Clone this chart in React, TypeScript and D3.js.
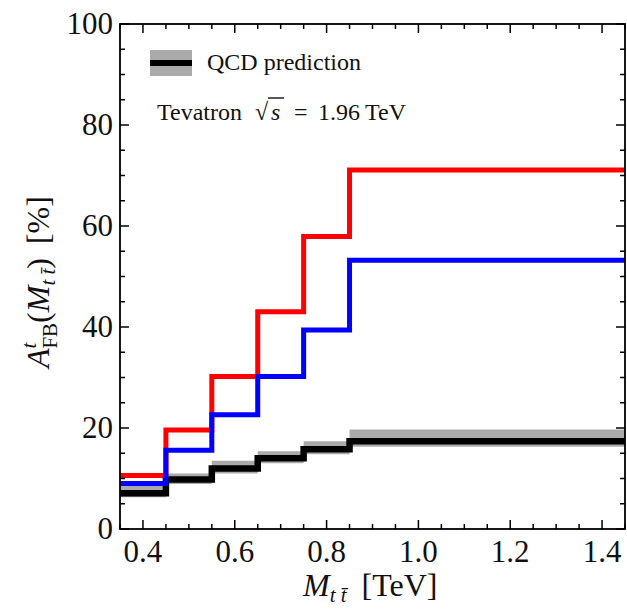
import * as d3 from 'd3';

// bin edges in TeV; last bin runs to the end of the axis
const binEdges = [0.35, 0.45, 0.55, 0.65, 0.75, 0.85, 1.45];
const redValues = [10.6, 19.6, 30.2, 43.0, 57.9, 71.1];
const blueValues = [9.0, 15.6, 22.6, 30.2, 39.4, 53.2];
const qcdCentral = [7.1, 9.8, 12.0, 14.0, 15.8, 17.4];
const qcdUpper = [8.5, 11.0, 13.5, 15.4, 17.4, 19.7];
const qcdLower = [6.3, 8.9, 11.0, 13.0, 14.8, 16.3];

const xMajor = [0.4, 0.6, 0.8, 1.0, 1.2, 1.4];
const yMajor = [0, 20, 40, 60, 80, 100];

const W = 627;
const H = 613;
const m = { left: 120, right: 625, top: 24, bottom: 529 };
const FONT = '"Liberation Serif", "DejaVu Serif", serif';

type Pt = { x: number; y: number };
type Band = { x: number; lo: number; hi: number };

function toSteps(vals: number[]): Pt[] {
  const pts = vals.map((v, i) => ({ x: binEdges[i], y: v }));
  pts.push({ x: binEdges[binEdges.length - 1], y: vals[vals.length - 1] });
  return pts;
}

export default function App() {
  const x = d3.scaleLinear().domain([0.35, 1.45]).range([m.left, m.right]);
  const y = d3.scaleLinear().domain([0, 100]).range([m.bottom, m.top]);

  const line = d3.line<Pt>().x(d => x(d.x)).y(d => y(d.y)).curve(d3.curveStepAfter);

  const band: Band[] = qcdLower.map((lo, i) => ({ x: binEdges[i], lo, hi: qcdUpper[i] }));
  band.push({ x: binEdges[binEdges.length - 1], lo: qcdLower[qcdLower.length - 1], hi: qcdUpper[qcdUpper.length - 1] });
  const area = d3.area<Band>().x(d => x(d.x)).y0(d => y(d.lo)).y1(d => y(d.hi)).curve(d3.curveStepAfter);

  const xMinor = d3.range(0.35, 1.4501, 0.05).map(v => +v.toFixed(2)).filter(v => !xMajor.some(t => Math.abs(t - v) < 1e-6));
  const yMinor = d3.range(0, 100.01, 5).filter(v => v % 20 !== 0);

  const majLen = 9;
  const minLen = 5;

  return (
    <svg width={W} height={H} style={{ position: 'absolute', left: 0, top: 0, background: '#fff' }} fontFamily={FONT}>
      <defs>
        <clipPath id="plot">
          <rect x={m.left} y={m.top} width={m.right - m.left} height={m.bottom - m.top} />
        </clipPath>
      </defs>

      <g clipPath="url(#plot)">
        <path d={area(band) ?? ''} fill="#aaaaaa" />
        <path d={line(toSteps(qcdCentral)) ?? ''} fill="none" stroke="#000" strokeWidth={6.5} />
        <path d={line(toSteps(redValues)) ?? ''} fill="none" stroke="#ff0000" strokeWidth={5} />
        <path d={line(toSteps(blueValues)) ?? ''} fill="none" stroke="#0000ff" strokeWidth={5} />
      </g>

      {/* ticks, inward on all four sides */}
      <g stroke="#000" strokeWidth={1.5}>
        {xMajor.map(t => (
          <g key={'xM' + t}>
            <line x1={x(t)} x2={x(t)} y1={m.bottom} y2={m.bottom - majLen} />
            <line x1={x(t)} x2={x(t)} y1={m.top} y2={m.top + majLen} />
          </g>
        ))}
        {xMinor.map(t => (
          <g key={'xm' + t}>
            <line x1={x(t)} x2={x(t)} y1={m.bottom} y2={m.bottom - minLen} />
            <line x1={x(t)} x2={x(t)} y1={m.top} y2={m.top + minLen} />
          </g>
        ))}
        {yMajor.map(t => (
          <g key={'yM' + t}>
            <line x1={m.left} x2={m.left + majLen} y1={y(t)} y2={y(t)} />
            <line x1={m.right} x2={m.right - majLen} y1={y(t)} y2={y(t)} />
          </g>
        ))}
        {yMinor.map(t => (
          <g key={'ym' + t}>
            <line x1={m.left} x2={m.left + minLen} y1={y(t)} y2={y(t)} />
            <line x1={m.right} x2={m.right - minLen} y1={y(t)} y2={y(t)} />
          </g>
        ))}
      </g>
      <rect x={m.left} y={m.top} width={m.right - m.left} height={m.bottom - m.top} fill="none" stroke="#000" strokeWidth={1.8} />

      {/* tick labels */}
      <g fontSize={31} fill="#111">
        {xMajor.map(t => (
          <text key={'xl' + t} x={x(t)} y={m.bottom + 33} textAnchor="middle">{t.toFixed(1)}</text>
        ))}
        {yMajor.map(t => (
          <text key={'yl' + t} x={m.left - 7} y={y(t) + 10} textAnchor="end">{t}</text>
        ))}
      </g>

      {/* x axis title */}
      <text x={303} y={596} fontSize={32} fill="#111">
        <tspan fontStyle="italic">M</tspan>
        <tspan fontStyle="italic" fontSize={21} dy={6}>t t̄</tspan>
        <tspan dx={15} dy={-6}>[TeV]</tspan>
      </text>

      {/* y axis title */}
      <text transform="translate(49,368) rotate(-90)" fontSize={32} fill="#111">
        <tspan fontStyle="italic">A</tspan>
        <tspan fontStyle="italic" fontSize={21} dy={-13}>t</tspan>
        <tspan fontSize={21} dx={-6} dy={21}>FB</tspan>
        <tspan dy={-8}>(</tspan>
        <tspan fontStyle="italic">M</tspan>
        <tspan fontStyle="italic" fontSize={21} dy={6}>t t̄</tspan>
        <tspan dy={-6}>)</tspan>
        <tspan dx={14}>[%]</tspan>
      </text>

      {/* legend */}
      <rect x={150} y={50} width={42} height={26} fill="#aaaaaa" />
      <line x1={150} x2={192} y1={63} y2={63} stroke="#000" strokeWidth={6} />
      <text x={207} y={70} fontSize={24} fill="#111">QCD prediction</text>

      <g fontSize={24} fill="#111">
        <text x={157} y={120}>Tevatron</text>
        <text x={255} y={120}>√</text>
        <text x={271} y={120} fontStyle="italic">s</text>
        <text x={294} y={120}>=</text>
        <text x={318} y={120}>1.96</text>
        <text x={365} y={120}>TeV</text>
      </g>
      <line x1={268} x2={284} y1={98} y2={98} stroke="#111" strokeWidth={1.4} />
    </svg>
  );
}
